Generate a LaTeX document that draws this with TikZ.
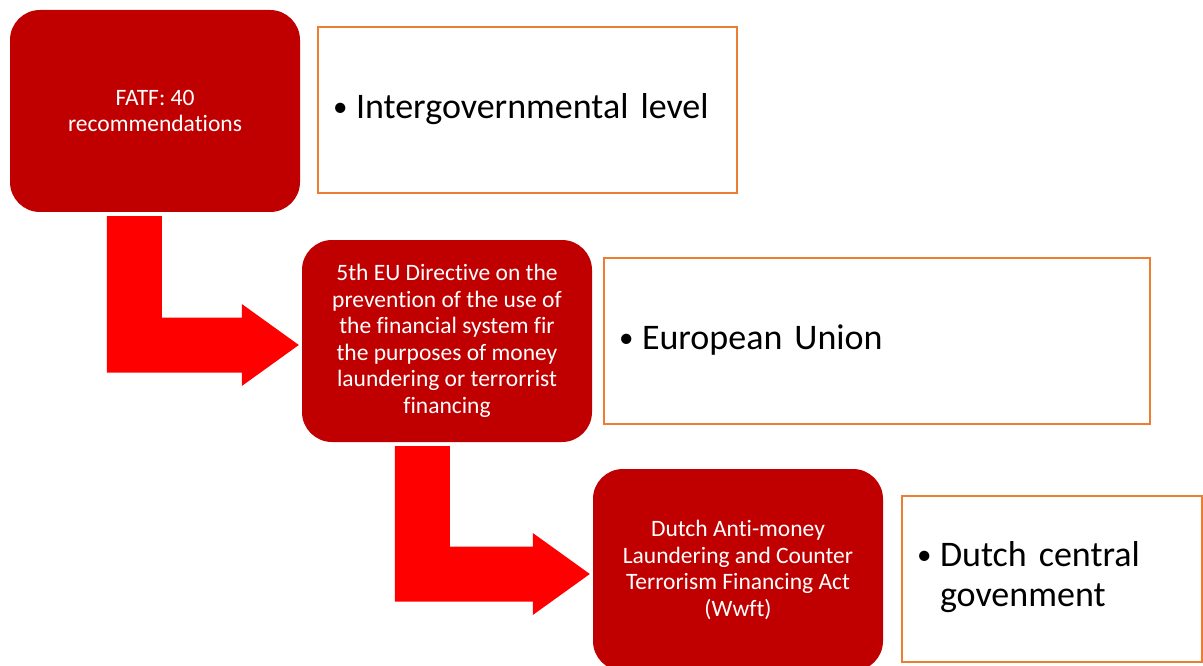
\documentclass[tikz,border=0pt]{standalone}
\usepackage{fontspec}
\setmainfont[Ligatures=CommonOff]{Carlito}
\usetikzlibrary{calc}

\definecolor{boxred}{HTML}{C00000}
\definecolor{arrowred}{HTML}{FF0000}
\definecolor{lineorange}{HTML}{ED7D31}

\tikzset{
  law/.style={fill=boxred, text=white, rounded corners=30pt, minimum width=290pt,
    minimum height=202pt, align=center, font=\fontsize{23.5}{26.5}\selectfont},
  level/.style={draw=lineorange, line width=2pt, inner xsep=15pt, text width=#1,
    minimum height=166pt, align=left, font=\fontsize{36}{40}\selectfont},
}

% bullet line of a level box
\newcommand{\lvlitem}[1]{\begin{tabular}{@{}p{23pt}@{}l@{}}\raisebox{2pt}{\fontsize{29}{29}\selectfont\textbullet} & #1\end{tabular}}

% L-shaped arrow from below one box to the west side of the next
\newcommand{\bentarrow}[3]{
  \coordinate (tip) at ($(#2.west)+(-3pt,-4pt)$);
  \coordinate (head) at ($(tip)+(-57pt,0)$);
  \coordinate (stemL) at ($(#1.south west)+(#3pt,-4pt)$);
  \coordinate (stemR) at ($(stemL)+(55pt,0)$);
  \coordinate (bandT) at ($(tip)+(0,27.5pt)$);
  \coordinate (bandB) at ($(tip)+(0,-27.5pt)$);
  \coordinate (headT) at ($(head)+(0,41pt)$);
  \coordinate (headB) at ($(head)+(0,-41pt)$);
  \fill[arrowred] (stemL) -- (stemR) -- (stemR |- bandT) -- (head |- bandT) -- (headT)
    -- (tip) -- (headB) -- (head |- bandB) -- (stemL |- bandB) -- cycle;
}

\begin{document}
\begin{tikzpicture}[x=1pt, y=-1pt]
\useasboundingbox (0,0) rectangle (1203,666);
\clip (0,0) rectangle (1203,666);

\node[law] (fatf) at (155,111) {FATF: 40\\recommendations};
\node[law] (eu) at (447,341) {5th EU Directive on the\\prevention of the use of\\the financial system fir\\the purposes of money\\laundering or terrorrist\\financing};
\node[law] (wwft) at (738,570) {Dutch Anti-money\\Laundering and Counter\\Terrorism Financing Act\\(Wwft)};

\node[level=389pt] (intergov) at (527.5,110.5) {\lvlitem{Intergovernmental level}};
\node[level=516pt] (union) at (877,341) {\lvlitem{European Union}};
\node[level=270pt] (central) at (1052,578.5) {\lvlitem{Dutch central\\ & govenment}};

\foreach \a/\b/\s in {fatf/eu/97, eu/wwft/93}{
  \bentarrow{\a}{\b}{\s}
}
\end{tikzpicture}
\end{document}
